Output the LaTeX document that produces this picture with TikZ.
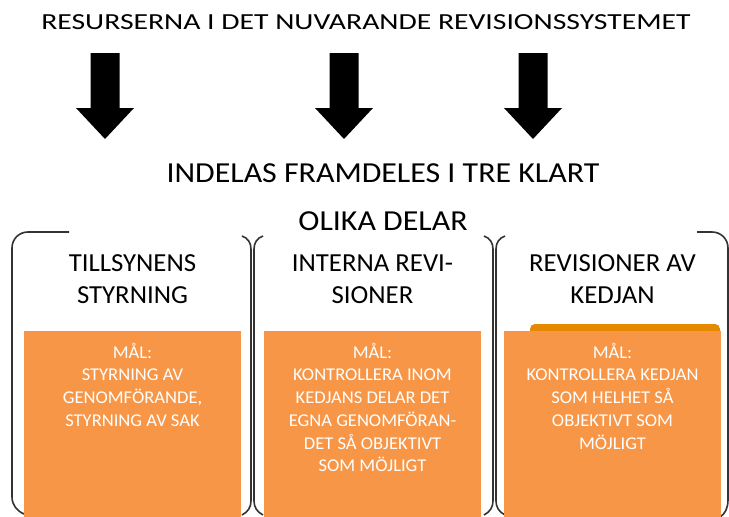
\documentclass[tikz,border=0pt]{standalone}
\usepackage{fontspec}
\setmainfont{Carlito}
\newfontfamily\titlefont[FakeStretch=1.29]{Carlito}
\newfontfamily\splitfont[FakeStretch=1.10]{Carlito}
\newfontfamily\headfont[FakeStretch=1.03]{Carlito}
\newfontfamily\goalfont[FakeStretch=1.03]{Carlito}
\usetikzlibrary{positioning}
\definecolor{goalorange}{HTML}{F79646}
\definecolor{taborange}{HTML}{E48900}

\begin{document}
\begin{tikzpicture}[x=1pt,y=-1pt,
    heading/.style={font=\titlefont\fontsize{23}{28}\selectfont,inner sep=0pt},
    subheading/.style={font=\splitfont\fontsize{29}{48}\selectfont,align=center,inner sep=0pt},
    boxhead/.style={font=\headfont\fontsize{26}{32}\selectfont,align=center,inner sep=0pt},
    goalbox/.style={rectangle,fill=goalorange,inner sep=0pt,
        minimum width=217pt,minimum height=186pt},
    goaltext/.style={font=\goalfont\fontsize{18}{22.7}\selectfont,text=white,
        align=center,inner sep=0pt},
    bracket/.style={line width=1.6pt,draw=black!80}
]
 \useasboundingbox (0,0) rectangle (729,517);

 \node[heading] (title) at (366,22) {RESURSERNA I DET NUVARANDE REVISIONSSYSTEMET};

 % block arrows
 \foreach \x in {105,344,533}
   \fill (\x-14.5,53) -- (\x+14.5,53) -- (\x+14.5,108) -- (\x+29,108)
     -- (\x,139) -- (\x-29,108) -- (\x-14.5,108) -- cycle;

 \node[subheading] (split) at (383,197) {INDELAS FRAMDELES I TRE KLART\\OLIKA DELAR};

 % brackets
 \draw[bracket] (69,232) -- (28,232) .. controls (19,232) and (12,239) .. (12,248)
   -- (12,497) .. controls (12,505) and (17,511) .. (24,514);
 \foreach \x in {251,493} {
   \draw[bracket] (\x-9,236) .. controls (\x-3,238) and (\x,243) .. (\x,249)
     -- (\x,501) .. controls (\x,507) and (\x-3,512) .. (\x-9,515);
   \draw[bracket] (\x+12,236) .. controls (\x+6,238) and (\x+3,243) .. (\x+3,249)
     -- (\x+3,501) .. controls (\x+3,507) and (\x+6,512) .. (\x+12,515);
 }
 \draw[bracket] (697,232) -- (712,232) .. controls (721,232) and (728,239) .. (728,248)
   -- (728,500) .. controls (728,508) and (725,514) .. (720,517);

 \node[boxhead] (headA) at (132.5,279) {TILLSYNENS\\STYRNING};
 \node[boxhead] (headB) at (372.5,279) {INTERNA REVI-\\SIONER};
 \node[boxhead] (headC) at (612.5,279) {REVISIONER AV\\KEDJAN};

 \fill[taborange,rounded corners=5pt] (530,338) -- (530,324) -- (720,324) -- (720,338) -- cycle;

 \node[goalbox] (goalA) at (132.5,424) {};
 \node[goalbox] (goalB) at (372.5,424) {};
 \node[goalbox] (goalC) at (612.5,424) {};

 \node[goaltext] (textA) [below=12pt of goalA.north] {MÅL:\\STYRNING AV\\GENOMFÖRANDE,\\STYRNING AV SAK};
 \node[goaltext] (textB) [below=12pt of goalB.north] {MÅL:\\KONTROLLERA INOM\\KEDJANS DELAR DET\\EGNA GENOMFÖRAN-\\DET SÅ OBJEKTIVT\\SOM MÖJLIGT};
 \node[goaltext] (textC) [below=12pt of goalC.north] {MÅL:\\KONTROLLERA KEDJAN\\SOM HELHET SÅ\\OBJEKTIVT SOM\\MÖJLIGT};
\end{tikzpicture}
\end{document}
